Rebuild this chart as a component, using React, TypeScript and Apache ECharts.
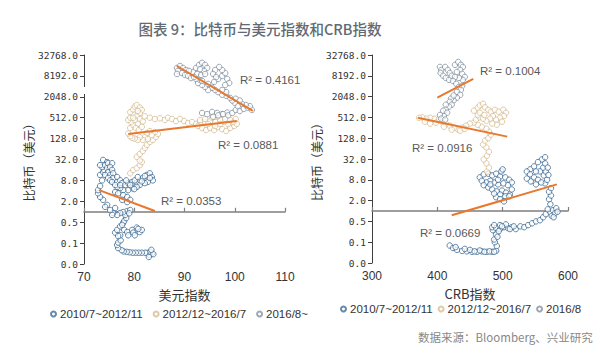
import React, { useEffect, useRef } from "react";
import * as echarts from "echarts";

const titleText = "图表 9：比特币与美元指数和CRB指数";
const sourceText = "数据来源：Bloomberg、兴业研究";
const legendLeft = ["2010/7~2012/11", "2012/12~2016/7", "2016/8~"];
const legendRight = ["2010/7~2012/11", "2012/12~2016/7", "2016/8"];
const xNameLeft = "美元指数";
const xNameRight = "CRB指数";
const yName = "比特币（美元）";
const r2Left = ["R² = 0.0353", "R² = 0.0881", "R² = 0.4161"];
const r2Right = ["R² = 0.0669", "R² = 0.0916", "R² = 0.1004"];

// [美元指数, 比特币价格]
const dxyP1 = [
  [83.5,0.062],[83.0,0.058],[82.6,0.065],[83.2,0.07],[83.8,0.06],[82.2,0.066],[81.5,0.066],[80.9,0.066],[80.3,0.066],[79.7,0.066],[79.1,0.068],[78.5,0.07],[77.9,0.072],[77.5,0.078],[83.4,0.08],[82.9,0.05],[76.8,0.09],[76.6,0.11],[76.8,0.13],[77.3,0.15],
  [76.2,0.25],[76.6,0.3],[77.2,0.38],[77.2,0.21],[76.8,0.2],[78.0,0.3],[78.6,0.26],[79.6,0.3],[80.5,0.35],[81.1,0.26],[79.8,0.25],[78.8,0.21],[80.1,0.21],[81.5,0.3],[80.8,0.32],
  [77.8,0.48],[78.0,0.54],[78.4,0.66],[77.6,0.42],
  [78.2,0.81],[78.6,1.05],[77.8,0.98],[77.2,0.92],[76.6,0.81],[75.8,0.92],[75.6,0.81],[76.2,1.28],[75.2,1.12],[74.6,1.57],[74.2,1.38],[79.2,1.12],[79.0,0.9],
  [73.8,2.2],[73.2,2.66],[72.8,3.4],[72.8,4.2],
  [73.2,5.5],[73.6,8],[73.2,11.5],[73.8,13.9],[74.0,16],[73.6,19.5],[73.2,22],[73.8,31],[74.6,27],[74.2,22],[74.8,25],[75.6,25],[74.6,18],[75.2,19.5],[74.8,13.9],[75.6,16],[74.2,11.5],[75.2,11.5],[75.8,12.8],[74.8,9.4],[75.8,9.4],[76.6,10],[75.2,8],[75.6,7.2],[76.6,7.2],[77.2,8],[77.6,6.7],[78.2,5.9],[78.8,6.7],[79.6,7.2],[79.8,5.9],[80.5,6.7],[81.1,8],[81.7,9.4],[82.5,11.5],[83.1,12.8],[83.5,10],[83.7,8],[82.7,7.2],[82.1,6.7],[81.1,5.9],[80.5,5.2],[79.6,4.8],[78.8,4.2],[77.8,4.2],[77.2,4.8],[76.6,5.2],[76.2,3.7],[76.8,3.4],[77.8,3.0],[78.6,2.66],[79.2,2.2],[78.6,1.9],[77.6,2.2],[76.2,5.9],[77.2,5.9],[79.2,5.9],[80.1,8],[82.1,10.7],[83.1,9.4],[80.7,10],[78.4,8],[80.0,4.5],[81.5,7.5]
];
const dxyP2 = [
  [79.2,12.8],[79.8,16],[80.5,18],[81.1,22],[81.5,27],[81.1,30],[80.5,38],[81.1,46],[81.7,56],[82.1,69],[82.5,84],[83.1,102],[83.7,117],[84.3,142],[84.7,174],[84.1,198],[83.1,210],[82.5,185],[83.5,160],[82.1,140],[82.7,125],[81.7,117],[81.1,140],[80.7,117],[80.1,128],[79.6,135],
  [79.2,150],[78.8,180],[79.2,258],[79.8,315],[79.4,385],[78.8,440],[79.2,512],[79.8,652],[79.2,740],[79.8,880],[80.1,1080],[80.5,1190],[81.1,1000],[81.5,855],[81.1,700],[80.5,560],[81.1,470],[81.7,400],[80.7,340],[80.3,258],[80.9,226],[81.5,280],[80.1,440],[79.8,512],[80.7,800],
  [82.1,560],[83.1,512],[84.1,470],[85.1,490],[86.1,440],[86.7,512],[87.5,470],[88.3,410],[89.1,470],[89.9,410],[90.7,360],[91.5,385],[92.3,340],[93.1,385],
  [92.7,296],[93.5,258],[94.3,226],[95.1,258],[95.9,226],[96.7,275],[97.5,240],[98.3,212],[99.1,258],[99.9,296],[100.4,338],[99.7,385],[98.7,338],[97.9,385],[97.1,440],[96.1,385],[95.1,410],[94.1,385],[93.1,440],[94.1,470],[95.5,512],[96.7,560],[98.1,470],[99.1,440],[100.2,470],[94.7,338],[96.1,296],[97.1,338]
];
const dxyP3 = [
  [93.5,700],[94.5,650],[95.5,750],[96.5,700],[97.5,650],[98.5,720],
  [95.7,545],[96.7,600],[97.7,650],[98.7,600],[99.5,700],[100.2,855],[101.0,800],[101.8,920],[102.6,1000],[103.4,855],[103.0,1100],[102.2,1190],[101.4,1280],[100.6,1100],[100.0,1380],[99.5,1600],[100.2,1800],[101.0,1600],[99.1,1900],[98.3,2200],[97.5,2350],[98.3,2800],[97.5,3210],[96.7,2800],[96.1,3210],[95.5,3700],[94.7,3210],[94.1,3950],[93.5,4480],[92.7,5100],[93.1,6250],[92.3,6700],[93.5,5900],[94.7,4800],
  [95.9,5500],[96.7,6700],[97.5,8192],[98.1,9900],[97.5,12100],[96.9,14800],[96.1,12100],[95.7,9300],[96.3,7600],[98.5,6700],[98.9,5100],[98.1,4480],
  [91.7,10600],[92.3,13900],[92.9,17000],[93.5,19500],[94.1,17000],[94.5,13900],[93.9,11400],[93.1,12800],[92.5,9300],[93.3,8700],[94.1,9300],
  [88.5,13900],[89.1,15800],[89.7,13900],[90.3,12100],[90.9,11400],[88.7,11400],[89.5,9900],[90.1,8700],[90.7,8192],[91.3,7100],[91.9,7600],[88.5,9300]
];

// [CRB指数, 比特币价格]
const crbP1 = [
  [419,0.1],[424,0.085],[430,0.075],[438,0.07],[445,0.068],[453,0.066],[461,0.066],[468,0.068],[476,0.066],[484,0.066],[490,0.07],[450,0.075],[465,0.072],[442,0.08],[428,0.09],[457,0.068],[472,0.066],[480,0.068],[487,0.066],
  [491,0.097],[488,0.125],[487,0.15],[490,0.21],[485,0.28],[492,0.18],
  [484,0.34],[490,0.32],[496,0.30],[502,0.34],[508,0.32],[514,0.34],[520,0.30],[527,0.36],[533,0.34],[539,0.39],[545,0.44],[551,0.5],[557,0.54],[487,0.39],[496,0.39],[505,0.41],[494,0.26],[499,0.36],[511,0.3],[517,0.36],
  [562,0.66],[566,0.81],[573,0.92],[577,1.05],[582,1.2],[575,0.72],[580,0.85],[569,1.12],[584,0.95],[578,0.66],
  [573,1.57],[571,2.2],[574,2.8],[571,3.6],[574,4.6],
  [565,6.3],[568,8],[563,10.7],[566,13.9],[562,18],[565,23.8],[560,31],[565,36],[554,26],[548,19.5],[542,16],[537,13.9],[542,11.5],[548,9.4],[554,8],[559,6.7],[551,5.9],[543,7.2],[537,8.7],[557,14],[551,14],[569,18],[570,11],
  [465,9.4],[471,11.5],[478,12],[484,10.7],[490,12],[496,10],[504,9.4],[510,8],[514,6.7],[508,5.6],[501,6.3],[493,5.9],[487,6.7],[481,7.5],[475,6.7],[468,7.5],[471,5.6],[478,4.8],[484,4.2],[491,3.7],[499,3.9],[505,3.4],[511,3.0],[504,2.66],[496,3.0],[490,2.5],[496,2.2],[502,1.9],[487,3.2],[481,5.9],[493,8],[514,4.2],[510,2.66],[498,14],[500,16]
];
const crbP2 = [
  [476,13.9],[479,18],[475,24],[471,31],[476,40],[479,52],[475,69],[470,84],[473,109],[478,128],[482,163],[479,198],[475,242],[468,275],[462,315],[456,360],[459,440],[465,512],[462,600],[456,800],[462,975],[465,1140],[470,1270],[473,1000],[478,850],[482,750],[488,850],[494,750],[501,850],[505,700],[502,560],[496,502],[490,440],[485,560],[481,470],[475,410],[470,470],[465,700],[472,600],[499,385],[491,315],[484,340],
  [450,340],[444,296],[438,258],[432,226],[426,258],[419,296],[413,338],[407,385],[401,440],[395,470],[389,500],[383,470],[377,512],[372,500],[381,385],[389,338],[398,360],[410,275],[422,226],[435,210],[442,240]
];
const crbP3 = [
  [404,14800],[406,12100],[405,9900],[409,8200],[413,7100],[418,6250],[412,14800],[416,12100],[419,9900],[422,8200],
  [427,17000],[432,20600],[436,17000],[439,14800],[435,12100],[430,10600],[438,9300],[442,7600],[439,6250],[433,7100],[427,7600],[424,5800],
  [429,4800],[433,3900],[438,4200],[436,3200],[430,2800],[435,2300],[430,1900],[425,1600],[421,1800],[425,2200],[419,1450],[422,1190],[418,1050],[413,1190],[413,855],[409,800],[415,700],[410,560],[404,600],[406,470],[412,440]
];

// trend line end points
const dxyTrend1 = [[73.0,4.2],[84.1,1.05]];
const dxyTrend2 = [[78.8,174],[100.4,410]];
const dxyTrend3 = [[88.5,15800],[103.6,800]];
const crbTrend1 = [[422,0.75],[583,5.9]];
const crbTrend2 = [[370,500],[507,142]];
const crbTrend3 = [[400,1900],[455,6650]];

const toLog2 = (pts: number[][]) => pts.map(([x, y]) => [x, Math.log2(y)]);

const COLORS = ["#3d6a94", "#d6bd92", "#8592a1"];
const TREND = "#e8782c";
const SANS = "'Liberation Sans', 'Noto Sans', sans-serif";
const CJK = "'Noto Sans CJK SC', sans-serif";

const GRIDS = [
  { left: 84, top: 55, width: 201, height: 209 },
  { left: 372, top: 55, width: 196, height: 208 },
];

function buildOption() {
  const yAxis = GRIDS.map((g, i) => ({
    type: "value",
    gridIndex: i,
    min: -5,
    max: 15,
    interval: 2,
    axisLine: { show: true, lineStyle: { color: "#404040", width: 1 } },
    axisTick: { show: true, length: 4, lineStyle: { color: "#404040" } },
    axisLabel: {
      formatter: (v: number) => Math.pow(2, v).toFixed(1),
      fontFamily: "'DejaVu Sans Mono', monospace",
      fontSize: 9.5,
      color: "#333",
      margin: 6,
    },
    splitLine: { show: false },
    name: yName,
    nameLocation: "middle",
    nameGap: i === 0 ? 39 : 36,
    nameTextStyle: { fontFamily: CJK, fontSize: 12, color: "#333" },
  }));

  const xRanges = [
    { min: 70, max: 110, interval: 10, name: xNameLeft },
    { min: 300, max: 600, interval: 100, name: xNameRight },
  ];
  const xAxis: any[] = [];
  xRanges.forEach((r, i) => {
    xAxis.push({
      type: "value",
      gridIndex: i,
      min: r.min,
      max: r.max,
      interval: r.interval,
      position: "bottom",
      axisLine: { show: false },
      axisTick: { show: false },
      splitLine: { show: false },
      axisLabel: { margin: 7, fontSize: 12, color: "#333", fontFamily: SANS },
      name: r.name,
      nameLocation: "middle",
      nameGap: 24,
      nameTextStyle: { fontFamily: CJK, fontSize: 13, color: "#333" },
    });
    xAxis.push({
      type: "value",
      gridIndex: i,
      min: r.min,
      max: r.max,
      interval: r.interval,
      position: "bottom",
      offset: -(GRIDS[i].height * 5) / 20,
      axisLine: { show: true, lineStyle: { color: "#7f7f7f", width: 1.5 } },
      axisTick: { show: true, inside: true, length: 4, lineStyle: { color: "#7f7f7f", width: 1.2 } },
      axisLabel: { show: false },
      splitLine: { show: false },
    });
  });

  const scatter = (name: string, data: number[][], ci: number, gi: number) => ({
    type: "scatter",
    name,
    xAxisIndex: gi * 2,
    yAxisIndex: gi,
    data: toLog2(data),
    symbol: "circle",
    symbolSize: 5.5,
    itemStyle: { color: "rgba(255,255,255,0.9)", borderColor: COLORS[ci], borderWidth: 1 },
    z: 2,
    silent: true,
  });
  const trend = (name: string, data: number[][], gi: number) => ({
    type: "line",
    name,
    xAxisIndex: gi * 2,
    yAxisIndex: gi,
    data: toLog2(data),
    symbol: "none",
    lineStyle: { color: TREND, width: 2 },
    z: 5,
    silent: true,
  });

  const series = [
    scatter(legendLeft[0], dxyP1, 0, 0),
    scatter(legendLeft[1], dxyP2, 1, 0),
    scatter(legendLeft[2], dxyP3, 2, 0),
    trend("tl1", dxyTrend1, 0),
    trend("tl2", dxyTrend2, 0),
    trend("tl3", dxyTrend3, 0),
    scatter(legendRight[0], crbP1, 0, 1),
    scatter(legendRight[1], crbP2, 1, 1),
    scatter(legendRight[2], crbP3, 2, 1),
    trend("tr1", crbTrend1, 1),
    trend("tr2", crbTrend2, 1),
    trend("tr3", crbTrend3, 1),
  ];

  const legendBase = {
    icon: "circle",
    itemWidth: 5,
    itemHeight: 5,
    padding: 0,
    textStyle: { fontSize: 11.5, color: "#333", fontFamily: SANS, padding: [0, 0, 0, -1] },
    selectedMode: false,
  };

  const r2Pos = [
    [161, 201], [218, 145], [240, 80],
    [420, 233], [412, 148], [480, 71],
  ];
  const r2Texts = [...r2Left, ...r2Right];

  const graphic: any[] = [
    {
      type: "text",
      x: 260,
      y: 28,
      style: {
        text: titleText,
        fill: "#5f6a75",
        fontSize: 14.5,
        fontWeight: 500,
        fontFamily: CJK,
        align: "center",
        verticalAlign: "middle",
        textAlign: "center",
        textVerticalAlign: "middle",
      },
    },
    {
      type: "text",
      x: 418,
      y: 337,
      style: {
        text: sourceText,
        fill: "#888",
        fontSize: 11.5,
        fontFamily: CJK,
        align: "left",
        verticalAlign: "middle",
        textAlign: "left",
        textVerticalAlign: "middle",
      },
    },
    {
      type: "rect",
      shape: { x: 82, y: 87, width: 4, height: 7 },
      style: { fill: "#fff" },
      z: 100,
    },
  ];
  r2Texts.forEach((t, i) => {
    graphic.push({
      type: "text",
      x: r2Pos[i][0],
      y: r2Pos[i][1],
      z: 50,
      style: {
        text: t,
        fill: "#595959",
        fontSize: 11.5,
        fontFamily: SANS,
        align: "left",
        verticalAlign: "middle",
        textAlign: "left",
        textVerticalAlign: "middle",
      },
    });
  });

  return {
    animation: false,
    backgroundColor: "#ffffff",
    grid: GRIDS.map((g) => ({ ...g, containLabel: false })),
    xAxis,
    yAxis,
    legend: [
      { ...legendBase, itemGap: 10, data: legendLeft, left: 50, top: 308 },
      { ...legendBase, itemGap: 5, data: legendRight, left: 340, top: 303 },
    ],
    series,
    graphic,
  };
}

export default function App() {
  const ref = useRef<HTMLDivElement>(null);
  useEffect(() => {
    if (!ref.current) return;
    const chart = echarts.init(ref.current, null, { renderer: "svg" });
    chart.setOption(buildOption() as any);
    return () => chart.dispose();
  }, []);
  return (
    <div
      ref={ref}
      style={{ position: "fixed", left: 0, top: 0, width: 600, height: 356, background: "#fff" }}
    />
  );
}
